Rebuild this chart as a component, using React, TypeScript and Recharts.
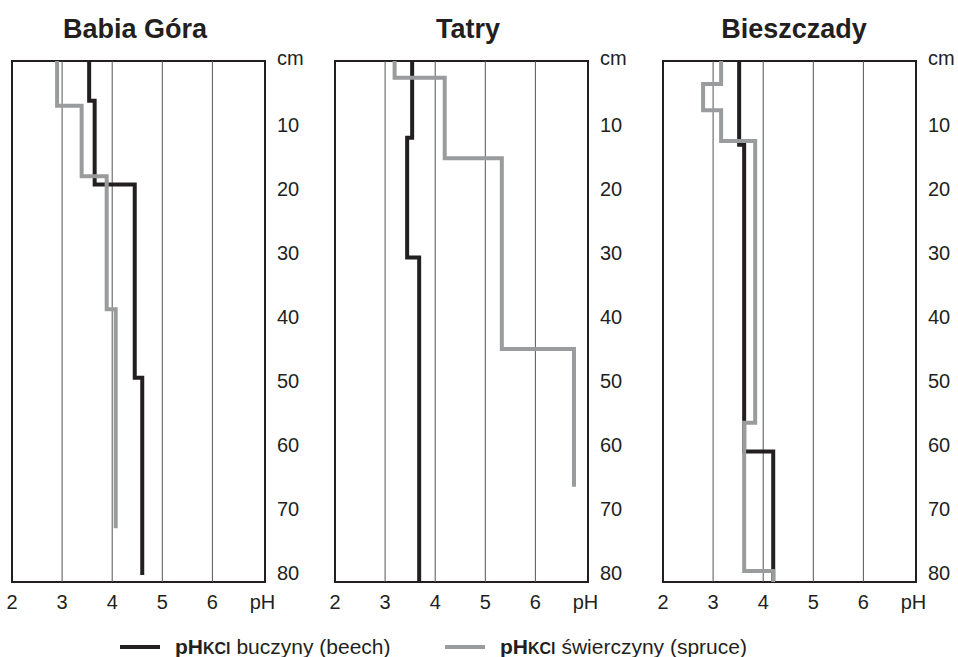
import React from 'react';
import {
  ScatterChart,
  Scatter,
  XAxis,
  YAxis,
  ReferenceLine,
  ReferenceArea,
} from 'recharts';

// pH per horizon, and horizon boundaries (cm) for each profile
const BABIA_BEECH_PH = [3.54, 3.65, 4.45, 4.6];
const BABIA_BEECH_DEPTH = [0, 6.2, 19.3, 49.5, 80.3];
const BABIA_SPRUCE_PH = [2.9, 3.39, 3.89, 4.07];
const BABIA_SPRUCE_DEPTH = [0, 7, 18, 38.8, 73];

const TATRY_BEECH_PH = [3.54, 3.44, 3.68];
const TATRY_BEECH_DEPTH = [0, 12, 30.7, 81.4];
const TATRY_SPRUCE_PH = [3.19, 4.19, 5.33, 6.77];
const TATRY_SPRUCE_DEPTH = [0, 2.6, 15.2, 45, 66.5];

const BIESZ_BEECH_PH = [3.52, 3.62, 4.2];
const BIESZ_BEECH_DEPTH = [0, 13.1, 61, 81.4];
const BIESZ_SPRUCE_PH = [3.16, 2.8, 3.16, 3.84, 3.62, 4.2];
const BIESZ_SPRUCE_DEPTH = [0, 3.6, 7.7, 12.5, 56.5, 79.7, 81.4];

const PH_TICKS = [2, 3, 4, 5, 6, 7];
const GRID_PH = [3, 4, 5, 6];
const DEPTH_TICKS = [0, 10, 20, 30, 40, 50, 60, 70, 80];

const BLACK = '#231f20';
const GRAY = '#9a9b9d';
const FONT = '"Liberation Sans", Arial, Helvetica, sans-serif';

// turn horizons into a step polyline
const toSteps = (ph: number[], depth: number[]) => {
  const pts: { ph: number; depth: number }[] = [];
  ph.forEach((v, i) => {
    pts.push({ ph: v, depth: depth[i] });
    pts.push({ ph: v, depth: depth[i + 1] });
  });
  return pts;
};

const noDot = () => <g />;

// right-hand depth labels, "cm" sits a bit higher than the 0 line
const DepthTick = (props: any) => {
  const { x, y, payload } = props;
  const isTop = payload.value === 0;
  return (
    <text x={x} y={isTop ? y - 3 : y} dy="0.355em" textAnchor="start" fill={BLACK} fontSize={20} fontFamily={FONT}>
      {isTop ? 'cm' : payload.value}
    </text>
  );
};

interface PanelProps {
  title: string;
  left: number;
  titleCenter: number;
  beech: { ph: number; depth: number }[];
  spruce: { ph: number; depth: number }[];
}

const Panel: React.FC<PanelProps> = ({ title, left, titleCenter, beech, spruce }) => (
  <>
    <div
      style={{
        position: 'absolute',
        left: titleCenter - 150,
        top: 16,
        width: 300,
        textAlign: 'center',
        fontSize: 27,
        lineHeight: '27px',
        fontWeight: 'bold',
        color: BLACK,
      }}
    >
      {title}
    </div>
    <div style={{ position: 'absolute', left, top: 0 }}>
      <ScatterChart width={310} height={622} margin={{ top: 61, right: 0, bottom: 0, left: 12 }}>
        <XAxis
          type="number"
          dataKey="ph"
          domain={[2, 7.05]}
          ticks={PH_TICKS}
          tickFormatter={(v: number) => (v === 7 ? 'pH' : String(v))}
          height={40}
          axisLine={false}
          tickLine={false}
          tickSize={0}
          tickMargin={13}
          tick={{ fill: BLACK, fontSize: 20, fontFamily: FONT }}
          allowDataOverflow
        />
        <YAxis
          type="number"
          dataKey="depth"
          orientation="right"
          reversed
          domain={[0, 81.4]}
          ticks={DEPTH_TICKS}
          width={45}
          axisLine={false}
          tickLine={false}
          tickSize={0}
          tickMargin={12}
          tick={<DepthTick />}
          allowDataOverflow
        />
        {GRID_PH.map((g) => (
          <ReferenceLine key={g} x={g} stroke="#555" strokeWidth={1} />
        ))}
        <Scatter
          data={beech}
          line={{ stroke: BLACK, strokeWidth: 4 }}
          shape={noDot}
          isAnimationActive={false}
        />
        <Scatter
          data={spruce}
          line={{ stroke: GRAY, strokeWidth: 4 }}
          shape={noDot}
          isAnimationActive={false}
        />
        <ReferenceArea
          x1={2}
          x2={7.05}
          y1={0}
          y2={81.4}
          fill="none"
          fillOpacity={0}
          stroke={BLACK}
          strokeWidth={2}
        />
      </ScatterChart>
    </div>
  </>
);

const LegendItem: React.FC<{ left: number; color: string; label: string }> = ({ left, color, label }) => (
  <div style={{ position: 'absolute', left, top: 633, height: 28, display: 'flex', alignItems: 'center' }}>
    <div style={{ width: 40, height: 4, background: color, marginRight: 15 }} />
    <span style={{ fontSize: 21, color: BLACK, whiteSpace: 'nowrap' }}>
      <b>pH</b>
      <b style={{ fontSize: 16 }}>KCl</b> {label}
    </span>
  </div>
);

export default function App() {
  return (
    <div
      style={{
        position: 'absolute',
        left: 0,
        top: 0,
        width: 958,
        height: 657,
        background: '#fff',
        fontFamily: FONT,
        overflow: 'hidden',
      }}
    >
      <Panel
        title="Babia Góra"
        left={0}
        titleCenter={135}
        beech={toSteps(BABIA_BEECH_PH, BABIA_BEECH_DEPTH)}
        spruce={toSteps(BABIA_SPRUCE_PH, BABIA_SPRUCE_DEPTH)}
      />
      <Panel
        title="Tatry"
        left={323}
        titleCenter={468}
        beech={toSteps(TATRY_BEECH_PH, TATRY_BEECH_DEPTH)}
        spruce={toSteps(TATRY_SPRUCE_PH, TATRY_SPRUCE_DEPTH)}
      />
      <Panel
        title="Bieszczady"
        left={651}
        titleCenter={794}
        beech={toSteps(BIESZ_BEECH_PH, BIESZ_BEECH_DEPTH)}
        spruce={toSteps(BIESZ_SPRUCE_PH, BIESZ_SPRUCE_DEPTH)}
      />
      <LegendItem left={120} color={BLACK} label="buczyny (beech)" />
      <LegendItem left={445} color={GRAY} label="świerczyny (spruce)" />
    </div>
  );
}
